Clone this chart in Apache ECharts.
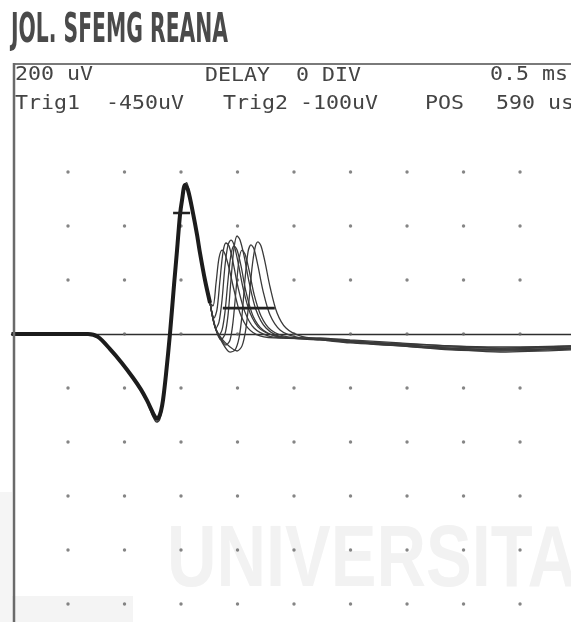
<!DOCTYPE html>
<html>
<head>
<meta charset="utf-8">
<script src="https://cdn.jsdelivr.net/npm/echarts@6/dist/echarts.min.js"></script>
<style>
  html, body { margin: 0; padding: 0; background: #ffffff; }
  #chart { width: 571px; height: 622px; }
</style>
</head>
<body>
<div id="chart"></div>
<script>
// ---------------- data (time in ms, amplitude in µV) ----------------
const titleText = 'JOL. SFEMG REANA';
const headerRow1 = ['200 uV', 'DELAY  0 DIV', '0.5 ms'];
const headerRow2 = ['Trig1', '-450uV', 'Trig2', '-100uV', 'POS', '590 us'];
const watermarkText = 'UNIVERSITA';

// graticule dots (0.5 ms / div, 200 µV / div)
const dotColsMs = [0.5, 1.0, 1.5, 2.0, 2.5, 3.0, 3.5, 4.0, 4.5];
const dotRowsUv = [600, 400, 200, 0, -200, -400, -600, -800, -1000];

// common triggered potential (superimposed sweeps)
const spikePrefix = [[0,0],[0.677,0],[0.765,-11],[0.872,-56],[0.978,-108],[1.075,-162],[1.146,-206],[1.199,-246],
  [1.243,-285],[1.270,-307],[1.288,-315],[1.305,-307],[1.323,-285],[1.341,-244],[1.367,-150],[1.403,4],[1.438,181],
  [1.465,311],[1.491,441],[1.509,496],[1.535,552],[1.562,533],[1.606,448],[1.642,367],[1.668,300],[1.712,200],[1.757,115]];
const spikeVariant = [[0,0],[0.70,0],[0.80,-24],[0.90,-70],[1.00,-122],[1.10,-180],[1.20,-252],[1.25,-304],
  [1.285,-326],[1.31,-318],[1.335,-270],[1.36,-180],[1.40,-10],[1.44,190],[1.47,340],[1.50,480],[1.527,548],
  [1.55,560],[1.575,515],[1.61,440],[1.65,345],[1.69,255],[1.712,200],[1.757,115]];

// individual sweeps after the first potential (jittering second potential)
const sweep1 = [[1.757,115],[1.783,104],[1.810,189],[1.836,281],[1.863,311],[1.889,296],[1.925,244],[1.969,163],[2.022,78],[2.093,22],[2.199,-7],[2.376,-15],[2.730,-15],[2.996,-22],[3.438,-33],[3.881,-44],[4.323,-48],[4.951,-44]];
const sweep2 = [[1.757,115],[1.792,59],[1.818,89],[1.845,200],[1.872,304],[1.898,337],[1.925,326],[1.960,267],[2.004,174],[2.066,81],[2.146,22],[2.270,-7],[2.420,-15],[2.730,-19],[2.996,-26],[3.438,-41],[3.881,-52],[4.323,-56],[4.951,-48]];
const sweep3 = [[1.757,115],[1.810,22],[1.836,44],[1.863,126],[1.889,252],[1.916,330],[1.942,348],[1.969,330],[2.004,267],[2.049,170],[2.111,78],[2.199,19],[2.332,-7],[2.465,-15],[2.730,-15],[2.996,-26],[3.438,-37],[3.881,-56],[4.323,-59],[4.951,-52]];
const sweep4 = [[1.757,115],[1.801,30],[1.836,-4],[1.863,15],[1.889,81],[1.916,200],[1.942,293],[1.969,326],[1.996,311],[2.031,252],[2.075,156],[2.137,67],[2.226,15],[2.376,-11],[2.730,-19],[2.996,-30],[3.438,-41],[3.881,-48],[4.323,-52],[4.951,-44]];
const sweep5 = [[1.757,115],[1.801,26],[1.854,-22],[1.889,0],[1.916,70],[1.942,200],[1.969,319],[1.996,363],[2.022,348],[2.058,289],[2.102,193],[2.164,89],[2.252,22],[2.394,-11],[2.730,-22],[2.996,-33],[3.438,-44],[3.881,-59],[4.323,-63],[4.951,-56]];
const sweep6 = [[1.757,115],[1.801,26],[1.845,-11],[1.898,-41],[1.934,-22],[1.960,44],[1.987,163],[2.013,274],[2.040,311],[2.066,296],[2.102,237],[2.146,148],[2.208,67],[2.296,15],[2.447,-11],[2.730,-19],[2.996,-26],[3.438,-37],[3.881,-44],[4.323,-52],[4.951,-48]];
const sweep7 = [[1.757,115],[1.801,26],[1.863,-30],[1.934,-67],[1.978,-59],[2.013,-15],[2.040,70],[2.066,200],[2.093,304],[2.119,330],[2.146,315],[2.181,252],[2.226,159],[2.288,70],[2.376,15],[2.518,-11],[2.730,-22],[2.996,-30],[3.438,-44],[3.881,-56],[4.323,-67],[4.951,-59]];
const sweep8 = [[1.757,115],[1.801,26],[1.863,-19],[1.934,-48],[1.996,-63],[2.040,-44],[2.075,22],[2.102,126],[2.128,244],[2.155,319],[2.181,341],[2.208,326],[2.243,267],[2.288,174],[2.350,78],[2.429,22],[2.553,-7],[2.730,-19],[2.996,-30],[3.438,-41],[3.881,-52],[4.323,-59],[4.951,-52]];

// trigger / jitter cursors
const cursorA = [[1.43,448],[1.58,448]];
const cursorB = [[1.87,96],[2.33,96]];

// ---------------- rendering ----------------
const W = 571, H = 622;
const measureCtx = document.createElement('canvas').getContext('2d');
function textWidth(str, weight, size, family) {
  measureCtx.font = weight + ' ' + size + 'px ' + family;
  return measureCtx.measureText(str).width;
}

const monoFamily = '"DejaVu Sans Mono", monospace';
const monoSize = 19;
const monoScale = 13 / textWidth('0', 'normal', monoSize, monoFamily);

function monoText(str, x, y) {
  return {
    type: 'text', x: x, y: y, scaleX: monoScale, silent: true, z: 10,
    style: { text: str, fontSize: monoSize, fontFamily: monoFamily, fill: '#444444',
             align: 'left', verticalAlign: 'middle' }
  };
}

const titleFamily = '"DejaVu Sans Condensed", "DejaVu Sans", sans-serif';
const titleSize = 41;
const titleScale = 217 / textWidth(titleText, 'bold', titleSize, titleFamily);

const wmFamily = '"Liberation Sans", Arial, sans-serif';
const wmSize = 88;
const wmScale = 410 / textWidth(watermarkText, 'bold', wmSize, wmFamily);

const dotData = [];
dotColsMs.forEach(function (t) { dotRowsUv.forEach(function (v) { dotData.push([t, v]); }); });

const sweeps = [sweep1, sweep2, sweep3, sweep4, sweep5, sweep6, sweep7, sweep8];

const series = [];
series.push({
  type: 'scatter', data: dotData, symbol: 'circle', symbolSize: 3.4, silent: true, z: 1,
  itemStyle: { color: '#666666' }
});
sweeps.forEach(function (s, i) {
  series.push({
    type: 'line', name: 'sweep' + (i + 1), data: s, showSymbol: false,
    smooth: 0.3, silent: true, z: 3,
    lineStyle: { color: '#3a3a3a', width: 1.3 }
  });
});
series.push({
  type: 'line', name: 'variant', data: spikeVariant, showSymbol: false, smooth: 0.3,
  silent: true, z: 3, lineStyle: { color: '#3a3a3a', width: 1.5 }
});
series.push({
  type: 'line', name: 'common', data: spikePrefix, showSymbol: false, smooth: 0.3,
  silent: true, z: 4, lineStyle: { color: '#1c1c1c', width: 4 }
});
[cursorA, cursorB].forEach(function (c) {
  series.push({
    type: 'line', data: c, showSymbol: false, silent: true, z: 5,
    lineStyle: { color: '#222222', width: 2.6 }
  });
});

const graphic = [
  { type: 'rect', shape: { x: 0, y: 596, width: 133, height: 26 }, style: { fill: '#f4f4f4' }, z: -10, silent: true },
  { type: 'rect', shape: { x: 0, y: 492, width: 12, height: 130 }, style: { fill: '#f5f5f5' }, z: -10, silent: true },
  {
    type: 'text', x: 167, y: 606, scaleX: wmScale, silent: true, z: -5,
    style: { text: watermarkText, fontSize: wmSize, fontWeight: 'bold', fontFamily: wmFamily,
             fill: '#f2f2f2', align: 'left', verticalAlign: 'bottom' }
  },
  {
    type: 'text', x: 11, y: 31, scaleX: titleScale, silent: true, z: 10,
    style: { text: titleText, fontSize: titleSize, fontWeight: 'bold', fontFamily: titleFamily,
             fill: '#4a4a4a', align: 'left', verticalAlign: 'middle' }
  },
  { type: 'line', shape: { x1: 13, y1: 64, x2: W, y2: 64 }, style: { stroke: '#7a7a7a', lineWidth: 2 }, z: 10, silent: true },
  { type: 'line', shape: { x1: 14, y1: 63, x2: 14, y2: H }, style: { stroke: '#6a6a6a', lineWidth: 2.5 }, z: 10, silent: true },
  monoText(headerRow1[0], 15, 75),
  monoText(headerRow1[1], 205, 76),
  monoText(headerRow1[2], 490, 75),
  monoText(headerRow2[0], 15, 104),
  monoText(headerRow2[1], 106, 104),
  monoText(headerRow2[2], 223, 104),
  monoText(headerRow2[3], 300, 104),
  monoText(headerRow2[4], 425, 104),
  monoText(headerRow2[5], 496, 104)
];

const chart = echarts.init(document.getElementById('chart'), null, { renderer: 'canvas', width: W, height: H });
chart.setOption({
  animation: false,
  backgroundColor: '#ffffff',
  grid: { left: 11.5, right: 0, top: 64, bottom: 0, containLabel: false },
  xAxis: {
    type: 'value', min: 0, max: 4.951,
    axisLine: { show: true, onZero: true, lineStyle: { color: '#2e2e2e', width: 1.3 } },
    axisTick: { show: false }, axisLabel: { show: false }, splitLine: { show: false }
  },
  yAxis: {
    type: 'value', min: -1066.7, max: 1000,
    axisLine: { show: false }, axisTick: { show: false }, axisLabel: { show: false }, splitLine: { show: false }
  },
  series: series,
  graphic: graphic
});
</script>
</body>
</html>
